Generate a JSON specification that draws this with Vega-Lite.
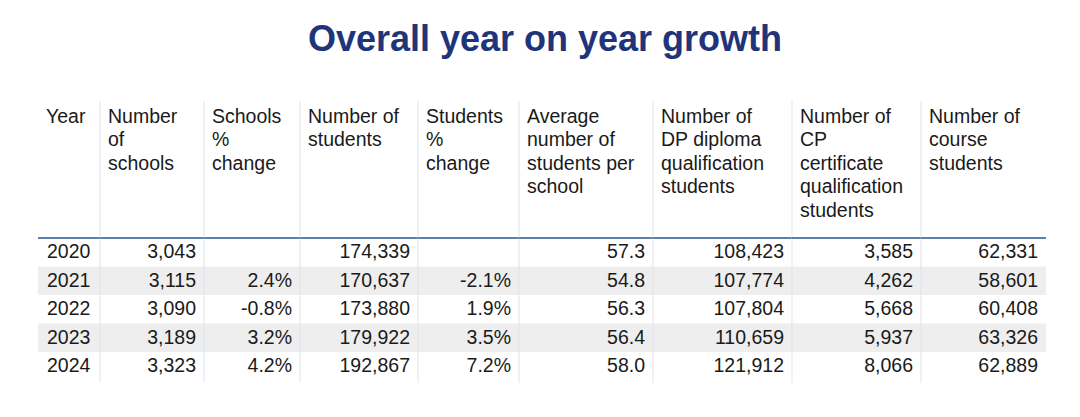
{
  "$schema": "https://vega.github.io/schema/vega-lite/v6.json",
  "background": "white",
  "padding": {"left": 37, "right": 35, "top": 21, "bottom": 20},
  "title": {"text": "Overall year on year growth", "font": "Liberation Sans", "fontSize": 36, "fontWeight": "bold", "color": "#1f3479", "anchor": "middle", "dx": 3, "offset": 42},
  "datasets": {
    "rows": [
      {"Year": 2020, "schools": 3043, "schools_pct": null, "students": 174339, "students_pct": null, "avg": 57.3, "dp": 108423, "cp": 3585, "course": 62331},
      {"Year": 2021, "schools": 3115, "schools_pct": 0.024, "students": 170637, "students_pct": -0.021, "avg": 54.8, "dp": 107774, "cp": 4262, "course": 58601},
      {"Year": 2022, "schools": 3090, "schools_pct": -0.008, "students": 173880, "students_pct": 0.019, "avg": 56.3, "dp": 107804, "cp": 5668, "course": 60408},
      {"Year": 2023, "schools": 3189, "schools_pct": 0.032, "students": 179922, "students_pct": 0.035, "avg": 56.4, "dp": 110659, "cp": 5937, "course": 63326},
      {"Year": 2024, "schools": 3323, "schools_pct": 0.042, "students": 192867, "students_pct": 0.072, "avg": 58.0, "dp": 121912, "cp": 8066, "course": 62889}
    ],
    "header": [
      {"col": 1, "line": 1, "text": "Year"},
      {"col": 2, "line": 1, "text": "Number"}, {"col": 2, "line": 2, "text": "of"}, {"col": 2, "line": 3, "text": "schools"},
      {"col": 3, "line": 1, "text": "Schools"}, {"col": 3, "line": 2, "text": "%"}, {"col": 3, "line": 3, "text": "change"},
      {"col": 4, "line": 1, "text": "Number of"}, {"col": 4, "line": 2, "text": "students"},
      {"col": 5, "line": 1, "text": "Students"}, {"col": 5, "line": 2, "text": "%"}, {"col": 5, "line": 3, "text": "change"},
      {"col": 6, "line": 1, "text": "Average"}, {"col": 6, "line": 2, "text": "number of"}, {"col": 6, "line": 3, "text": "students per"}, {"col": 6, "line": 4, "text": "school"},
      {"col": 7, "line": 1, "text": "Number of"}, {"col": 7, "line": 2, "text": "DP diploma"}, {"col": 7, "line": 3, "text": "qualification"}, {"col": 7, "line": 4, "text": "students"},
      {"col": 8, "line": 1, "text": "Number of"}, {"col": 8, "line": 2, "text": "CP"}, {"col": 8, "line": 3, "text": "certificate"}, {"col": 8, "line": 4, "text": "qualification"}, {"col": 8, "line": 5, "text": "students"},
      {"col": 9, "line": 1, "text": "Number of"}, {"col": 9, "line": 2, "text": "course"}, {"col": 9, "line": 3, "text": "students"}
    ]
  },
  "spacing": 0,
  "vconcat": [
    {
      "spacing": 0,
      "bounds": "flush",
      "hconcat": [
        {"width": 62, "height": 135, "data": {"name": "header"}, "layer": [
          {"transform": [{"filter": "datum.col == 1"}], "mark": {"type": "text", "align": "left", "dx": 8, "baseline": "middle"}, "encoding": {"x": {"value": 0}, "y": {"field": "line", "type": "ordinal", "axis": null, "scale": {"type": "point", "domain": [1, 2, 3, 4, 5], "padding": 0.872, "align": 0.39}}, "text": {"field": "text"}}}
        ]},
        {"width": 104, "height": 135, "data": {"name": "header"}, "layer": [
          {"data": {"values": [{}]}, "mark": {"type": "rule", "color": "#dfe3e8", "strokeWidth": 1}, "encoding": {"x": {"value": 0}}},
          {"transform": [{"filter": "datum.col == 2"}], "mark": {"type": "text", "align": "left", "dx": 8, "baseline": "middle"}, "encoding": {"x": {"value": 0}, "y": {"field": "line", "type": "ordinal", "axis": null, "scale": {"type": "point", "domain": [1, 2, 3, 4, 5], "padding": 0.872, "align": 0.39}}, "text": {"field": "text"}}}
        ]},
        {"width": 96, "height": 135, "data": {"name": "header"}, "layer": [
          {"data": {"values": [{}]}, "mark": {"type": "rule", "color": "#dfe3e8", "strokeWidth": 1}, "encoding": {"x": {"value": 0}}},
          {"transform": [{"filter": "datum.col == 3"}], "mark": {"type": "text", "align": "left", "dx": 8, "baseline": "middle"}, "encoding": {"x": {"value": 0}, "y": {"field": "line", "type": "ordinal", "axis": null, "scale": {"type": "point", "domain": [1, 2, 3, 4, 5], "padding": 0.872, "align": 0.39}}, "text": {"field": "text"}}}
        ]},
        {"width": 118, "height": 135, "data": {"name": "header"}, "layer": [
          {"data": {"values": [{}]}, "mark": {"type": "rule", "color": "#dfe3e8", "strokeWidth": 1}, "encoding": {"x": {"value": 0}}},
          {"transform": [{"filter": "datum.col == 4"}], "mark": {"type": "text", "align": "left", "dx": 8, "baseline": "middle"}, "encoding": {"x": {"value": 0}, "y": {"field": "line", "type": "ordinal", "axis": null, "scale": {"type": "point", "domain": [1, 2, 3, 4, 5], "padding": 0.872, "align": 0.39}}, "text": {"field": "text"}}}
        ]},
        {"width": 101, "height": 135, "data": {"name": "header"}, "layer": [
          {"data": {"values": [{}]}, "mark": {"type": "rule", "color": "#dfe3e8", "strokeWidth": 1}, "encoding": {"x": {"value": 0}}},
          {"transform": [{"filter": "datum.col == 5"}], "mark": {"type": "text", "align": "left", "dx": 8, "baseline": "middle"}, "encoding": {"x": {"value": 0}, "y": {"field": "line", "type": "ordinal", "axis": null, "scale": {"type": "point", "domain": [1, 2, 3, 4, 5], "padding": 0.872, "align": 0.39}}, "text": {"field": "text"}}}
        ]},
        {"width": 134, "height": 135, "data": {"name": "header"}, "layer": [
          {"data": {"values": [{}]}, "mark": {"type": "rule", "color": "#dfe3e8", "strokeWidth": 1}, "encoding": {"x": {"value": 0}}},
          {"transform": [{"filter": "datum.col == 6"}], "mark": {"type": "text", "align": "left", "dx": 8, "baseline": "middle"}, "encoding": {"x": {"value": 0}, "y": {"field": "line", "type": "ordinal", "axis": null, "scale": {"type": "point", "domain": [1, 2, 3, 4, 5], "padding": 0.872, "align": 0.39}}, "text": {"field": "text"}}}
        ]},
        {"width": 139, "height": 135, "data": {"name": "header"}, "layer": [
          {"data": {"values": [{}]}, "mark": {"type": "rule", "color": "#dfe3e8", "strokeWidth": 1}, "encoding": {"x": {"value": 0}}},
          {"transform": [{"filter": "datum.col == 7"}], "mark": {"type": "text", "align": "left", "dx": 8, "baseline": "middle"}, "encoding": {"x": {"value": 0}, "y": {"field": "line", "type": "ordinal", "axis": null, "scale": {"type": "point", "domain": [1, 2, 3, 4, 5], "padding": 0.872, "align": 0.39}}, "text": {"field": "text"}}}
        ]},
        {"width": 129, "height": 135, "data": {"name": "header"}, "layer": [
          {"data": {"values": [{}]}, "mark": {"type": "rule", "color": "#dfe3e8", "strokeWidth": 1}, "encoding": {"x": {"value": 0}}},
          {"transform": [{"filter": "datum.col == 8"}], "mark": {"type": "text", "align": "left", "dx": 8, "baseline": "middle"}, "encoding": {"x": {"value": 0}, "y": {"field": "line", "type": "ordinal", "axis": null, "scale": {"type": "point", "domain": [1, 2, 3, 4, 5], "padding": 0.872, "align": 0.39}}, "text": {"field": "text"}}}
        ]},
        {"width": 125, "height": 135, "data": {"name": "header"}, "layer": [
          {"data": {"values": [{}]}, "mark": {"type": "rule", "color": "#dfe3e8", "strokeWidth": 1}, "encoding": {"x": {"value": 0}}},
          {"transform": [{"filter": "datum.col == 9"}], "mark": {"type": "text", "align": "left", "dx": 8, "baseline": "middle"}, "encoding": {"x": {"value": 0}, "y": {"field": "line", "type": "ordinal", "axis": null, "scale": {"type": "point", "domain": [1, 2, 3, 4, 5], "padding": 0.872, "align": 0.39}}, "text": {"field": "text"}}}
        ]}
      ]
    },
    {
      "spacing": 0,
      "bounds": "flush",
      "hconcat": [
        {"width": 62, "height": 145, "data": {"name": "rows"}, "layer": [
          {"transform": [{"filter": "datum.Year == 2021 || datum.Year == 2023"}], "mark": {"type": "rect", "color": "#eeeeee"}, "encoding": {"x": {"value": 0}, "x2": {"value": "width"}, "y": {"field": "Year", "type": "ordinal", "axis": null, "scale": {"type": "band", "domain": [2020, 2021, 2022, 2023, 2024], "paddingInner": 0, "paddingOuter": 0.044, "align": 0}}}},
          {"data": {"values": [{}]}, "mark": {"type": "rule", "color": "#5b80aa", "strokeWidth": 2}, "encoding": {"y": {"value": 0}}},
          {"mark": {"type": "text", "align": "left", "dx": 9, "baseline": "middle"}, "encoding": {"x": {"value": 0}, "y": {"field": "Year", "type": "ordinal", "axis": null}, "text": {"field": "Year", "type": "nominal"}}}
        ]},
        {"width": 104, "height": 145, "data": {"name": "rows"}, "layer": [
          {"transform": [{"filter": "datum.Year == 2021 || datum.Year == 2023"}], "mark": {"type": "rect", "color": "#eeeeee"}, "encoding": {"x": {"value": 0}, "x2": {"value": "width"}, "y": {"field": "Year", "type": "ordinal", "axis": null, "scale": {"type": "band", "domain": [2020, 2021, 2022, 2023, 2024], "paddingInner": 0, "paddingOuter": 0.044, "align": 0}}}},
          {"data": {"values": [{}]}, "mark": {"type": "rule", "color": "#dfe3e8", "strokeWidth": 1}, "encoding": {"x": {"value": 0}}},
          {"data": {"values": [{}]}, "mark": {"type": "rule", "color": "#5b80aa", "strokeWidth": 2}, "encoding": {"y": {"value": 0}}},
          {"transform": [{"filter": "isValid(datum.schools)"}], "mark": {"type": "text", "align": "right", "dx": -8, "baseline": "middle"}, "encoding": {"x": {"value": "width"}, "y": {"field": "Year", "type": "ordinal", "axis": null}, "text": {"field": "schools", "type": "quantitative", "format": ","}}}
        ]},
        {"width": 96, "height": 145, "data": {"name": "rows"}, "layer": [
          {"transform": [{"filter": "datum.Year == 2021 || datum.Year == 2023"}], "mark": {"type": "rect", "color": "#eeeeee"}, "encoding": {"x": {"value": 0}, "x2": {"value": "width"}, "y": {"field": "Year", "type": "ordinal", "axis": null, "scale": {"type": "band", "domain": [2020, 2021, 2022, 2023, 2024], "paddingInner": 0, "paddingOuter": 0.044, "align": 0}}}},
          {"data": {"values": [{}]}, "mark": {"type": "rule", "color": "#dfe3e8", "strokeWidth": 1}, "encoding": {"x": {"value": 0}}},
          {"data": {"values": [{}]}, "mark": {"type": "rule", "color": "#5b80aa", "strokeWidth": 2}, "encoding": {"y": {"value": 0}}},
          {"transform": [{"filter": "isValid(datum.schools_pct)"}], "mark": {"type": "text", "align": "right", "dx": -8, "baseline": "middle"}, "encoding": {"x": {"value": "width"}, "y": {"field": "Year", "type": "ordinal", "axis": null}, "text": {"field": "schools_pct", "type": "quantitative", "format": ".1%"}}}
        ]},
        {"width": 118, "height": 145, "data": {"name": "rows"}, "layer": [
          {"transform": [{"filter": "datum.Year == 2021 || datum.Year == 2023"}], "mark": {"type": "rect", "color": "#eeeeee"}, "encoding": {"x": {"value": 0}, "x2": {"value": "width"}, "y": {"field": "Year", "type": "ordinal", "axis": null, "scale": {"type": "band", "domain": [2020, 2021, 2022, 2023, 2024], "paddingInner": 0, "paddingOuter": 0.044, "align": 0}}}},
          {"data": {"values": [{}]}, "mark": {"type": "rule", "color": "#dfe3e8", "strokeWidth": 1}, "encoding": {"x": {"value": 0}}},
          {"data": {"values": [{}]}, "mark": {"type": "rule", "color": "#5b80aa", "strokeWidth": 2}, "encoding": {"y": {"value": 0}}},
          {"transform": [{"filter": "isValid(datum.students)"}], "mark": {"type": "text", "align": "right", "dx": -8, "baseline": "middle"}, "encoding": {"x": {"value": "width"}, "y": {"field": "Year", "type": "ordinal", "axis": null}, "text": {"field": "students", "type": "quantitative", "format": ","}}}
        ]},
        {"width": 101, "height": 145, "data": {"name": "rows"}, "layer": [
          {"transform": [{"filter": "datum.Year == 2021 || datum.Year == 2023"}], "mark": {"type": "rect", "color": "#eeeeee"}, "encoding": {"x": {"value": 0}, "x2": {"value": "width"}, "y": {"field": "Year", "type": "ordinal", "axis": null, "scale": {"type": "band", "domain": [2020, 2021, 2022, 2023, 2024], "paddingInner": 0, "paddingOuter": 0.044, "align": 0}}}},
          {"data": {"values": [{}]}, "mark": {"type": "rule", "color": "#dfe3e8", "strokeWidth": 1}, "encoding": {"x": {"value": 0}}},
          {"data": {"values": [{}]}, "mark": {"type": "rule", "color": "#5b80aa", "strokeWidth": 2}, "encoding": {"y": {"value": 0}}},
          {"transform": [{"filter": "isValid(datum.students_pct)"}], "mark": {"type": "text", "align": "right", "dx": -8, "baseline": "middle"}, "encoding": {"x": {"value": "width"}, "y": {"field": "Year", "type": "ordinal", "axis": null}, "text": {"field": "students_pct", "type": "quantitative", "format": ".1%"}}}
        ]},
        {"width": 134, "height": 145, "data": {"name": "rows"}, "layer": [
          {"transform": [{"filter": "datum.Year == 2021 || datum.Year == 2023"}], "mark": {"type": "rect", "color": "#eeeeee"}, "encoding": {"x": {"value": 0}, "x2": {"value": "width"}, "y": {"field": "Year", "type": "ordinal", "axis": null, "scale": {"type": "band", "domain": [2020, 2021, 2022, 2023, 2024], "paddingInner": 0, "paddingOuter": 0.044, "align": 0}}}},
          {"data": {"values": [{}]}, "mark": {"type": "rule", "color": "#dfe3e8", "strokeWidth": 1}, "encoding": {"x": {"value": 0}}},
          {"data": {"values": [{}]}, "mark": {"type": "rule", "color": "#5b80aa", "strokeWidth": 2}, "encoding": {"y": {"value": 0}}},
          {"transform": [{"filter": "isValid(datum.avg)"}], "mark": {"type": "text", "align": "right", "dx": -8, "baseline": "middle"}, "encoding": {"x": {"value": "width"}, "y": {"field": "Year", "type": "ordinal", "axis": null}, "text": {"field": "avg", "type": "quantitative", "format": ".1f"}}}
        ]},
        {"width": 139, "height": 145, "data": {"name": "rows"}, "layer": [
          {"transform": [{"filter": "datum.Year == 2021 || datum.Year == 2023"}], "mark": {"type": "rect", "color": "#eeeeee"}, "encoding": {"x": {"value": 0}, "x2": {"value": "width"}, "y": {"field": "Year", "type": "ordinal", "axis": null, "scale": {"type": "band", "domain": [2020, 2021, 2022, 2023, 2024], "paddingInner": 0, "paddingOuter": 0.044, "align": 0}}}},
          {"data": {"values": [{}]}, "mark": {"type": "rule", "color": "#dfe3e8", "strokeWidth": 1}, "encoding": {"x": {"value": 0}}},
          {"data": {"values": [{}]}, "mark": {"type": "rule", "color": "#5b80aa", "strokeWidth": 2}, "encoding": {"y": {"value": 0}}},
          {"transform": [{"filter": "isValid(datum.dp)"}], "mark": {"type": "text", "align": "right", "dx": -8, "baseline": "middle"}, "encoding": {"x": {"value": "width"}, "y": {"field": "Year", "type": "ordinal", "axis": null}, "text": {"field": "dp", "type": "quantitative", "format": ","}}}
        ]},
        {"width": 129, "height": 145, "data": {"name": "rows"}, "layer": [
          {"transform": [{"filter": "datum.Year == 2021 || datum.Year == 2023"}], "mark": {"type": "rect", "color": "#eeeeee"}, "encoding": {"x": {"value": 0}, "x2": {"value": "width"}, "y": {"field": "Year", "type": "ordinal", "axis": null, "scale": {"type": "band", "domain": [2020, 2021, 2022, 2023, 2024], "paddingInner": 0, "paddingOuter": 0.044, "align": 0}}}},
          {"data": {"values": [{}]}, "mark": {"type": "rule", "color": "#dfe3e8", "strokeWidth": 1}, "encoding": {"x": {"value": 0}}},
          {"data": {"values": [{}]}, "mark": {"type": "rule", "color": "#5b80aa", "strokeWidth": 2}, "encoding": {"y": {"value": 0}}},
          {"transform": [{"filter": "isValid(datum.cp)"}], "mark": {"type": "text", "align": "right", "dx": -8, "baseline": "middle"}, "encoding": {"x": {"value": "width"}, "y": {"field": "Year", "type": "ordinal", "axis": null}, "text": {"field": "cp", "type": "quantitative", "format": ","}}}
        ]},
        {"width": 125, "height": 145, "data": {"name": "rows"}, "layer": [
          {"transform": [{"filter": "datum.Year == 2021 || datum.Year == 2023"}], "mark": {"type": "rect", "color": "#eeeeee"}, "encoding": {"x": {"value": 0}, "x2": {"value": "width"}, "y": {"field": "Year", "type": "ordinal", "axis": null, "scale": {"type": "band", "domain": [2020, 2021, 2022, 2023, 2024], "paddingInner": 0, "paddingOuter": 0.044, "align": 0}}}},
          {"data": {"values": [{}]}, "mark": {"type": "rule", "color": "#dfe3e8", "strokeWidth": 1}, "encoding": {"x": {"value": 0}}},
          {"data": {"values": [{}]}, "mark": {"type": "rule", "color": "#5b80aa", "strokeWidth": 2}, "encoding": {"y": {"value": 0}}},
          {"transform": [{"filter": "isValid(datum.course)"}], "mark": {"type": "text", "align": "right", "dx": -8, "baseline": "middle"}, "encoding": {"x": {"value": "width"}, "y": {"field": "Year", "type": "ordinal", "axis": null}, "text": {"field": "course", "type": "quantitative", "format": ","}}}
        ]}
      ]
    }
  ],
  "config": {
    "view": {"stroke": null},
    "locale": {"number": {"decimal": ".", "thousands": ",", "grouping": [3], "currency": ["$", ""], "minus": "-"}},
    "text": {"font": "Liberation Sans", "fontSize": 19.5, "color": "#1a1a1a"}
  }
}
